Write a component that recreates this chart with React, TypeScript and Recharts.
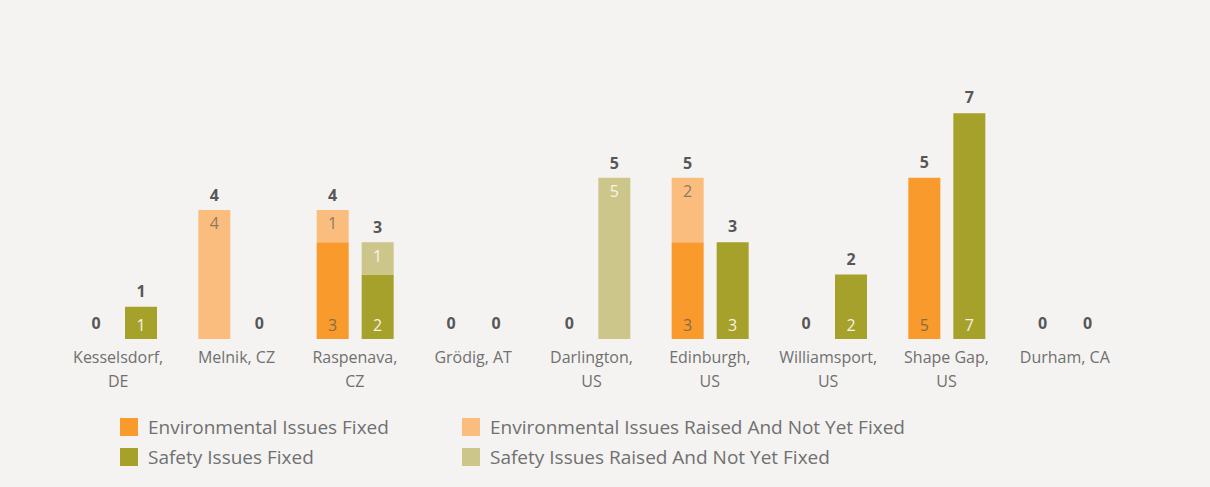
import React from 'react';
import { BarChart, Bar, XAxis, YAxis, LabelList, Legend, Cell } from 'recharts';

const sites = [
  'Kesselsdorf, DE',
  'Melnik, CZ',
  'Raspenava, CZ',
  'Grödig, AT',
  'Darlington, US',
  'Edinburgh, US',
  'Williamsport, US',
  'Shape Gap, US',
  'Durham, CA',
];
const siteLines = [
  ['Kesselsdorf,', 'DE'],
  ['Melnik, CZ'],
  ['Raspenava,', 'CZ'],
  ['Grödig, AT'],
  ['Darlington,', 'US'],
  ['Edinburgh,', 'US'],
  ['Williamsport,', 'US'],
  ['Shape Gap,', 'US'],
  ['Durham, CA'],
];
const envFixed = [0, 0, 3, 0, 0, 3, 0, 5, 0];
const envRaised = [0, 4, 1, 0, 0, 2, 0, 0, 0];
const safetyFixed = [1, 0, 2, 0, 0, 3, 2, 7, 0];
const safetyRaised = [0, 0, 1, 0, 5, 0, 0, 0, 0];

const seriesNames = [
  'Environmental Issues Fixed',
  'Environmental Issues Raised And Not Yet Fixed',
  'Safety Issues Fixed',
  'Safety Issues Raised And Not Yet Fixed',
];
const seriesColors = ['#f89a2c', '#fbbd7e', '#a6a12a', '#cdc68a'];

const data = sites.map((site, i) => ({
  site,
  envFixed: envFixed[i],
  envRaised: envRaised[i],
  safetyFixed: safetyFixed[i],
  safetyRaised: safetyRaised[i],
  envTotal: envFixed[i] + envRaised[i],
  safetyTotal: safetyFixed[i] + safetyRaised[i],
}));

const FONT = '"Open Sans", sans-serif';
const hideZero = (v: any) => (v === 0 ? '' : v);

const SiteTick = (props: any) => {
  const { x, y, payload } = props;
  const lines = siteLines[payload.index] || [payload.value];
  return (
    <text x={x} y={y} textAnchor="middle" fill="#707070" fontSize={16} fontFamily={FONT}>
      {lines.map((line, i) => (
        <tspan key={i} x={x} dy={i === 0 ? 16 : 24}>
          {line}
        </tspan>
      ))}
    </text>
  );
};

const LegendBlock = () => (
  <div
    style={{
      display: 'grid',
      gridTemplateColumns: '342px 460px',
      rowGap: 12,
      fontFamily: FONT,
      fontSize: 19,
      color: '#707070',
    }}
  >
    {seriesNames.map((name, i) => (
      <div key={name} style={{ display: 'flex', alignItems: 'center', height: 18 }}>
        <span style={{ width: 18, height: 18, background: seriesColors[i], marginRight: 10, flexShrink: 0 }} />
        <span style={{ whiteSpace: 'nowrap' }}>{name}</span>
      </div>
    ))}
  </div>
);

const totalStyle = { fill: '#575757', fontSize: 16, fontWeight: 700, fontFamily: FONT };
const innerSize = 16;

export default function App() {
  return (
    <div style={{ position: 'absolute', left: 0, top: 0, width: 1210, height: 487, background: '#f4f3f1' }}>
      <BarChart
        width={1210}
        height={487}
        data={data}
        margin={{ top: 81, right: 86, left: 59, bottom: 88 }}
        barSize={32}
        barGap={13}
      >
        <XAxis
          dataKey="site"
          axisLine={false}
          tickLine={false}
          interval={0}
          height={60}
          tick={<SiteTick />}
        />
        <YAxis hide domain={[0, 8]} />
        <Legend
          verticalAlign="middle"
          align="center"
          layout="horizontal"
          content={() => <LegendBlock />}
          wrapperStyle={{ top: 418, left: 120, width: 820, height: 50 }}
        />
        <Bar dataKey="envFixed" stackId="env" fill={seriesColors[0]} isAnimationActive={false}>
          <LabelList dataKey="envFixed" position="insideBottom" offset={8} formatter={hideZero}
            style={{ fill: '#8a6a4a', fontSize: innerSize, fontFamily: FONT }} />
        </Bar>
        <Bar dataKey="envRaised" stackId="env" fill={seriesColors[1]} minPointSize={1} isAnimationActive={false}>
          {envRaised.map((v, i) => (
            <Cell key={i} fillOpacity={v === 0 ? 0 : 1} />
          ))}
          <LabelList dataKey="envRaised" position="insideTop" offset={8} formatter={hideZero}
            style={{ fill: '#8c7a66', fontSize: innerSize, fontFamily: FONT }} />
          <LabelList dataKey="envTotal" position="top" offset={9} style={totalStyle} />
        </Bar>
        <Bar dataKey="safetyFixed" stackId="safety" fill={seriesColors[2]} isAnimationActive={false}>
          <LabelList dataKey="safetyFixed" position="insideBottom" offset={8} formatter={hideZero}
            style={{ fill: '#f4f2e4', fontSize: innerSize, fontFamily: FONT }} />
        </Bar>
        <Bar dataKey="safetyRaised" stackId="safety" fill={seriesColors[3]} minPointSize={1} isAnimationActive={false}>
          {safetyRaised.map((v, i) => (
            <Cell key={i} fillOpacity={v === 0 ? 0 : 1} />
          ))}
          <LabelList dataKey="safetyRaised" position="insideTop" offset={8} formatter={hideZero}
            style={{ fill: '#f7f5ea', fontSize: innerSize, fontFamily: FONT }} />
          <LabelList dataKey="safetyTotal" position="top" offset={9} style={totalStyle} />
        </Bar>
      </BarChart>
    </div>
  );
}
